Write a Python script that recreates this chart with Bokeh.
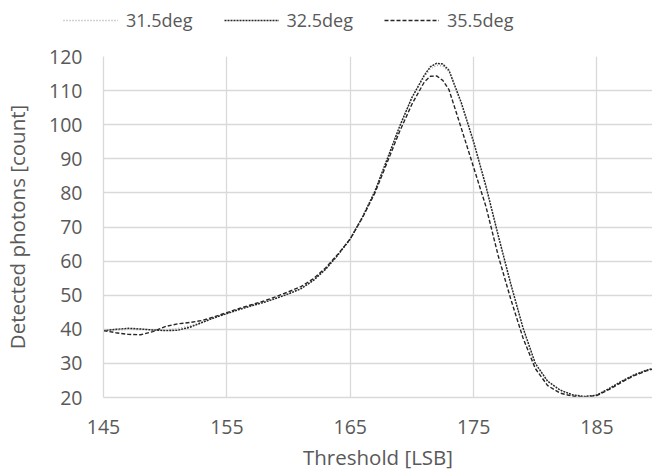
from bokeh.plotting import figure
from bokeh.models import Range1d, FixedTicker, Legend, LegendItem
from bokeh.layouts import column
from bokeh.embed import file_html
from bokeh.resources import INLINE

x_vals = [145, 146, 147, 148, 149, 150, 151, 152, 153, 154, 155, 156, 157, 158, 159,
          160, 161, 162, 163, 164, 165, 166, 167, 168, 169, 170, 171, 171.5, 172, 172.5,
          173, 174, 175, 176, 177, 178, 179, 180, 181, 182, 183, 184, 185, 186, 187,
          188, 189, 190]

deg_31_5 = [39.5, 39.7, 40.0, 39.9, 39.8, 39.8, 40.2, 41.0, 42.2, 43.4, 44.6, 45.8, 46.8, 47.8, 49.0,
            50.3, 51.8, 54.2, 57.5, 61.7, 66.4, 72.8, 80.3, 89.7, 99.2, 107.7, 114.0, 116.4, 117.4, 117.2,
            115.5, 106.0, 94.5, 81.5, 67.0, 53.0, 40.2, 29.8, 24.6, 22.1, 20.8, 20.3, 20.7, 22.6, 24.7,
            26.5, 27.9, 28.9]

deg_32_5 = [39.6, 40.0, 40.3, 40.1, 39.8, 39.6, 39.7, 40.6, 42.0, 43.4, 44.6, 45.8, 46.9, 47.9, 49.1,
            50.4, 51.9, 54.3, 57.6, 61.8, 66.5, 73.0, 80.5, 90.0, 99.5, 108.0, 114.5, 117.0, 118.0, 117.8,
            116.0, 106.5, 95.0, 82.0, 67.5, 53.5, 40.5, 30.0, 24.8, 22.2, 20.8, 20.3, 20.7, 22.7, 24.8,
            26.6, 28.0, 29.0]

deg_35_5 = [39.6, 39.0, 38.5, 38.4, 39.3, 40.8, 41.6, 42.0, 42.6, 43.7, 44.9, 46.1, 47.2, 48.3, 49.6,
            51.0, 52.5, 54.8, 58.0, 62.0, 66.5, 72.8, 80.0, 89.0, 98.0, 106.0, 112.5, 114.2, 114.3, 113.0,
            110.3, 99.0, 87.5, 76.0, 61.5, 49.0, 37.5, 28.5, 23.5, 21.3, 20.4, 20.1, 20.6, 22.4, 24.5,
            26.4, 27.8, 28.8]

series_names = ["31.5deg", "32.5deg", "35.5deg"]
x_ticks = [145, 155, 165, 175, 185]
y_ticks = [20, 30, 40, 50, 60, 70, 80, 90, 100, 110, 120]

FONT = "Open Sans"
TXT = "#595959"
GRID = "#d9d9d9"

styles = [dict(line_color="#a6a6a6", line_width=1.3, line_dash="1 2"),
          dict(line_color="#262626", line_width=1.4, line_dash="2 1"),
          dict(line_color="#262626", line_width=1.4, line_dash="4 2")]
series = [deg_31_5, deg_32_5, deg_35_5]

# ---- main chart ----
p = figure(frame_width=549, frame_height=341, output_backend="svg", toolbar_location=None,
           x_range=Range1d(145, 189.5), y_range=Range1d(20, 120),
           min_border_left=103, min_border_right=0, min_border_top=12, min_border_bottom=75)
p.outline_line_color = None
p.background_fill_color = "white"

for ax in (p.xaxis[0], p.yaxis[0]):
    ax.major_tick_line_color = None
    ax.minor_tick_line_color = None
    ax.major_tick_in = 0
    ax.major_tick_out = 0
    ax.axis_line_color = GRID
    ax.axis_line_width = 1.3
    ax.major_label_text_font = FONT
    ax.major_label_text_font_size = "19.5px"
    ax.major_label_text_color = TXT
    ax.axis_label_text_font = FONT
    ax.axis_label_text_font_size = "20.5px"
    ax.axis_label_text_font_style = "normal"
    ax.axis_label_text_color = TXT

p.xaxis.ticker = FixedTicker(ticks=x_ticks)
p.yaxis.ticker = FixedTicker(ticks=y_ticks)
p.xaxis.axis_label = "Threshold [LSB]"
p.yaxis.axis_label = "Detected photons [count]"
p.xaxis.major_label_standoff = 22
p.yaxis.major_label_standoff = 21
p.xaxis.axis_label_standoff = 6
p.yaxis.axis_label_standoff = 15

p.xgrid.ticker = FixedTicker(ticks=x_ticks)
p.ygrid.ticker = FixedTicker(ticks=y_ticks)
p.grid.grid_line_color = GRID
p.grid.grid_line_width = 1.3

for ys, st in zip(series, styles):
    p.line(x_vals, ys, **st)

# ---- legend strip (series drawn out of its visible range; only the legend shows) ----
lg = figure(frame_width=652, frame_height=44, output_backend="svg", toolbar_location=None,
            x_range=Range1d(0, 1), y_range=Range1d(0, 1), x_axis_type=None, y_axis_type=None,
            min_border=0)
lg.outline_line_color = None
lg.grid.visible = False
items = []
for name, ys, st in zip(series_names, series, styles):
    r = lg.line(x_vals, ys, **st)
    items.append(LegendItem(label=name, renderers=[r]))

legend = Legend(items=items, orientation="horizontal", location=(63, 12),
                glyph_width=55, glyph_height=20, label_height=20,
                label_standoff=8, spacing=31, padding=0, margin=0,
                label_text_font=FONT, label_text_font_size="18px", label_text_color=TXT,
                border_line_alpha=0, background_fill_alpha=0)
lg.add_layout(legend, "center")

layout = column(lg, p, spacing=0)
open("out.html", "w").write(file_html(layout, INLINE))
